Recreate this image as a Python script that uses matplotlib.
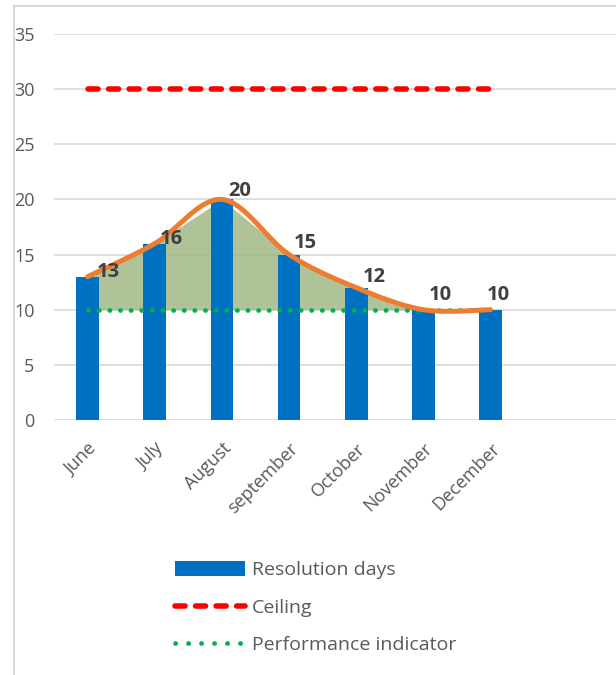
import numpy as np
import matplotlib
matplotlib.use("Agg")
import matplotlib.pyplot as plt
from matplotlib.lines import Line2D
from matplotlib.patches import Patch

# ---- data ----
months = ["June", "July", "August", "september", "October", "November", "December"]
resolution_days = [13, 16, 20, 15, 12, 10, 10]
ceiling = [30, 30, 30, 30, 30, 30, 30]
performance_indicator = [10, 10, 10, 10, 10, 10, 10]
y_ticks = [0, 5, 10, 15, 20, 25, 30, 35]

# ---- styling ----
BAR_BLUE = "#0070C0"
ORANGE = "#ED7D31"
RED = "#FF0000"
GREEN_DOT = "#00B050"
FILL_GREEN = "#9CB57E"
GRID = "#D9D9D9"
TEXT = "#595959"
LABEL = "#404040"
FONT = ["Open Sans", "DejaVu Sans"]
plt.rcParams["font.family"] = FONT

# label offsets in pixels (dx right, dy up) from each point
label_offsets_px = [(9, 5), (5, 5), (6, 8), (5, 12), (7, 11), (5, 15), (-4, 15)]


def smooth_curve(xs, ys, samples=40):
    """Cubic Bezier smoothing through every point (Catmull-Rom tangents)."""
    xs = np.asarray(xs, float)
    ys = np.asarray(ys, float)
    px = np.concatenate([[xs[0]], xs, [xs[-1]]])
    py = np.concatenate([[ys[0]], ys, [ys[-1]]])
    out_x, out_y = [], []
    t = np.linspace(0, 1, samples)
    for i in range(1, len(px) - 2):
        p0 = np.array([px[i], py[i]])
        p3 = np.array([px[i + 1], py[i + 1]])
        c1 = p0 + (np.array([px[i + 1], py[i + 1]]) - np.array([px[i - 1], py[i - 1]])) / 6
        c2 = p3 - (np.array([px[i + 2], py[i + 2]]) - np.array([px[i], py[i]])) / 6
        b = ((1 - t) ** 3)[:, None] * p0 + (3 * (1 - t) ** 2 * t)[:, None] * c1 \
            + (3 * (1 - t) * t ** 2)[:, None] * c2 + (t ** 3)[:, None] * p3
        out_x.append(b[:, 0])
        out_y.append(b[:, 1])
    return np.concatenate(out_x), np.concatenate(out_y)


W, H = 616, 675
fig = plt.figure(figsize=(W / 100, H / 100), dpi=100)
ax = fig.add_axes([54 / W, (H - 420) / H, (W - 54) / W, (420 - 34) / H])

x = np.arange(len(months))

# gridlines
for yt in y_ticks:
    ax.axhline(yt, color=GRID, lw=1.2, zorder=0)

# shaded band between the indicator and the actual values
ax.fill_between(x, performance_indicator, resolution_days, color=FILL_GREEN,
                alpha=0.8, lw=0, zorder=1)

bars = ax.bar(x, resolution_days, width=0.338, color=BAR_BLUE, zorder=2)

ax.plot(x, ceiling, color=RED, lw=4, linestyle=(0, (1.8, 1.9)),
        dash_capstyle="round", zorder=3)
ax.plot(x, performance_indicator, color=GREEN_DOT, lw=3.4,
        linestyle=(0, (0.05, 2.2)), dash_capstyle="round", zorder=3)

sx, sy = smooth_curve(x, resolution_days)
ax.plot(sx, sy, color=ORANGE, lw=3.6, solid_capstyle="round", zorder=4)

for xi, v, (dx, dy) in zip(x, resolution_days, label_offsets_px):
    ax.annotate(str(v), (xi, v), xytext=(dx * 0.72, dy * 0.72),
                textcoords="offset points", ha="left", va="center",
                fontsize=14.5, fontweight="bold", color=LABEL, zorder=5)

ax.set_xlim((54 - 87.7) / 67.13, (W - 87.7) / 67.13)
ax.set_ylim(0, 35)
ax.set_yticks(y_ticks)
ax.set_yticklabels([str(v) for v in y_ticks])
ax.set_xticks(x)
ax.set_xticklabels(months, rotation=45, ha="right", va="top",
                   rotation_mode="anchor")
ax.tick_params(axis="y", length=0, pad=14, labelsize=13, labelcolor=TEXT)
ax.tick_params(axis="x", length=0, pad=14, labelsize=13, labelcolor=TEXT)
for s in ax.spines.values():
    s.set_visible(False)
ax.set_facecolor("none")

# chart frame (left and top edges)
fig.add_artist(Line2D([13.5 / W, 13.5 / W], [0, (H - 5.5) / H],
                      transform=fig.transFigure, color=GRID, lw=1.5))
fig.add_artist(Line2D([13.5 / W, 1], [(H - 5.5) / H, (H - 5.5) / H],
                      transform=fig.transFigure, color=GRID, lw=1.5))

handles = [
    Patch(facecolor=BAR_BLUE, edgecolor="none"),
    Line2D([], [], color=RED, lw=4, linestyle=(0, (1.8, 1.9)), dash_capstyle="round"),
    Line2D([], [], color=GREEN_DOT, lw=3.4, linestyle=(0, (0.05, 2.7)), dash_capstyle="round"),
]
labels = ["Resolution days", "Ceiling", "Performance indicator"]
fig.legend(handles, labels, loc="upper left",
           bbox_to_anchor=(175 / W, (H - 561) / H), frameon=False,
           fontsize=14, labelcolor=TEXT, handlelength=3.6,
           handleheight=0.8, handletextpad=0.36, labelspacing=1.0,
           borderpad=0, borderaxespad=0)

fig.savefig("out.png", dpi=100)
